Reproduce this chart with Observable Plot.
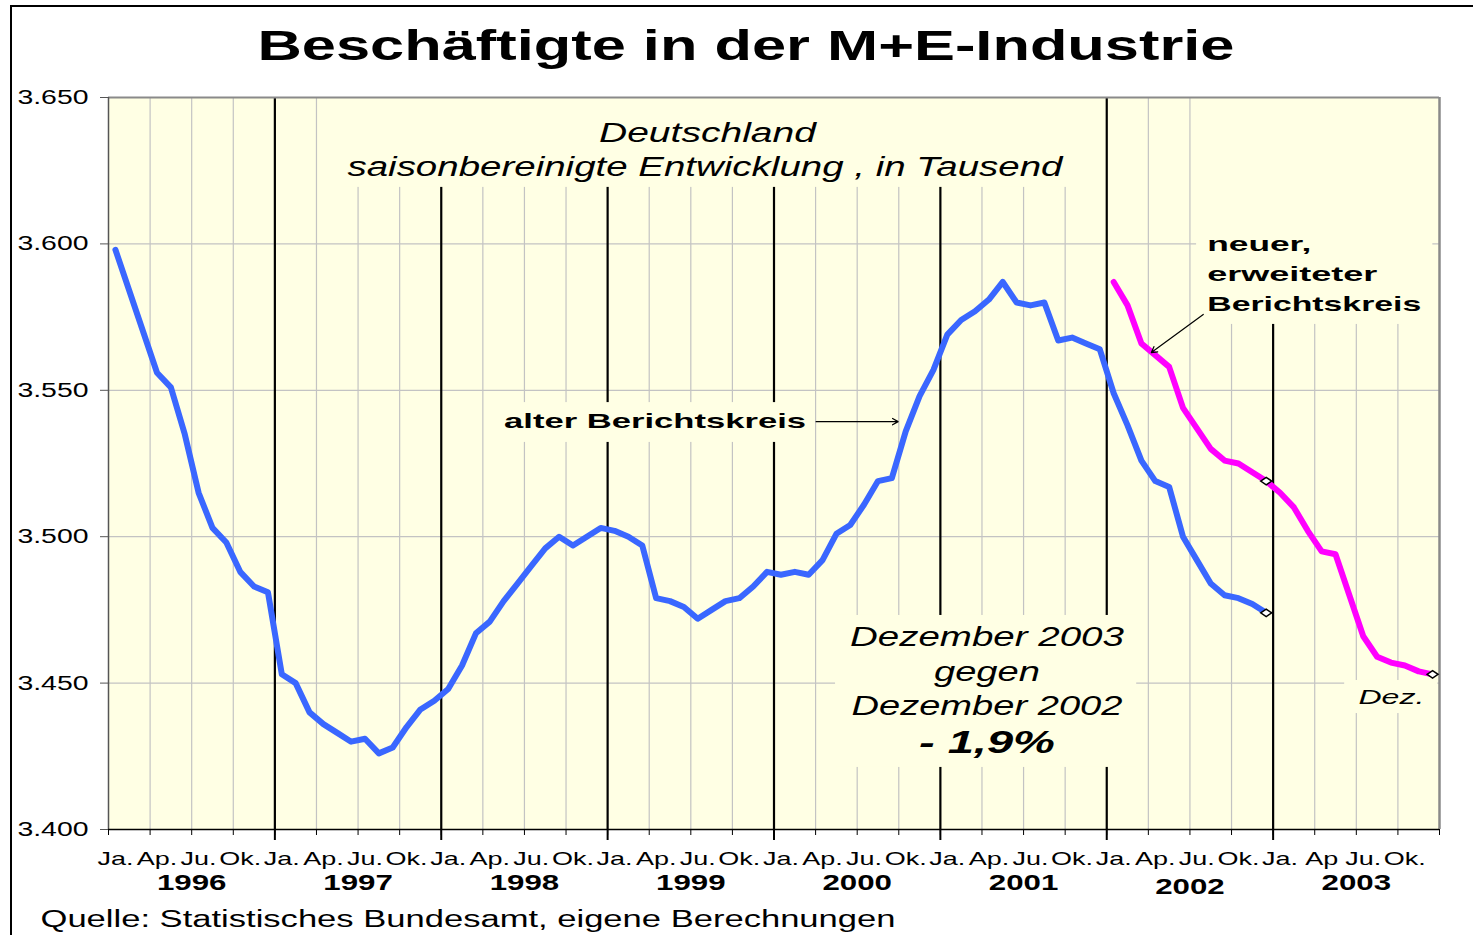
<!DOCTYPE html>
<html>
<head>
<meta charset="utf-8">
<script src="https://cdn.jsdelivr.net/npm/d3@7"></script>
<script src="https://cdn.jsdelivr.net/npm/@observablehq/plot@0.6"></script>
<style>
  body { margin: 0; background: #fff; overflow: hidden; }
  #wrap { position: relative; width: 1473px; height: 935px; overflow: hidden; background: #fff; }
  #chart { position: absolute; left: 0; top: 0; }
  #frame { position: absolute; left: 10px; top: 5px; width: 1600px; height: 1000px;
           border-left: 2px solid #000; border-top: 2px solid #000; pointer-events: none; }
</style>
</head>
<body>
<div id="wrap"><div id="chart"></div><div id="frame"></div></div>
<script>
// ---------- data ----------
const years = [1996, 1997, 1998, 1999, 2000, 2001, 2002, 2003];
const quarterLabels = ["Ja.", "Ap.", "Ju.", "Ok."];
const quarterLabels2003 = ["Ja.", "Ap", "Ju.", "Ok."];
const yTicks = [3400, 3450, 3500, 3550, 3600, 3650];
const yGrid = [3450, 3500, 3550, 3600];

// alter Berichtskreis, Jan 1996 - Dez 2002 (Tausend)
const alterBerichtskreis = [
  3598, 3584, 3570, 3556, 3551, 3535, 3515, 3503, 3498, 3488, 3483, 3481,
  3453, 3450, 3440, 3436, 3433, 3430, 3431, 3426, 3428, 3435, 3441, 3444,
  3448, 3456, 3467, 3471, 3478, 3484, 3490, 3496, 3500, 3497, 3500, 3503,
  3502, 3500, 3497, 3479, 3478, 3476, 3472, 3475, 3478, 3479, 3483, 3488,
  3487, 3488, 3487, 3492, 3501, 3504, 3511, 3519, 3520, 3536, 3548, 3557,
  3569, 3574, 3577, 3581, 3587, 3580, 3579, 3580, 3567, 3568, 3566, 3564,
  3549, 3538, 3526, 3519, 3517, 3500, 3492, 3484, 3480, 3479, 3477, 3474
];
// neuer, erweiteter Berichtskreis, Jan 2002 - Dez 2003 (Tausend)
const neuerBerichtskreis = [
  3587, 3579, 3566, 3562, 3558, 3544, 3537, 3530, 3526, 3525, 3522, 3519,
  3515, 3510, 3502, 3495, 3494, 3480, 3466, 3459, 3457, 3456, 3454, 3453
];

// ---------- derived tables ----------
const alt = alterBerichtskreis.map((v, i) => ({t: 1996 + (i + 0.5) / 12, v}));
const neu = neuerBerichtskreis.map((v, i) => ({t: 2002 + (i + 0.5) / 12, v}));
const markers = [alt[alt.length - 1], neu[11], neu[neu.length - 1]];

const quarterTicks = d3.range(0, years.length * 4 + 1).map(i => years[0] + i / 4);
const minorGrid = quarterTicks.filter((d, i) => i % 4 !== 0);
const yearLines = years.slice(1);
const qLabels = years.flatMap(y => (y === 2003 ? quarterLabels2003 : quarterLabels)
  .map((label, q) => ({t: y + (q * 3 + 0.5) / 12, label})));
const yLabels = years.map(y => ({t: y + 0.5, label: String(y), low: y === 2002}));

// ---------- annotations (data coordinates) ----------
const boxes = [
  {x1: 1997.40, x2: 2001.79, y1: 3650, y2: 3619.3},
  {x1: 1998.33, x2: 2000.22, y1: 3545.8, y2: 3532.2},
  {x1: 2002.54, x2: 2003.96, y1: 3650, y2: 3572.5},
  {x1: 2000.37, x2: 2002.18, y1: 3473.1, y2: 3421.2},
  {x1: 2003.43, x2: 2003.99, y1: 3450.9, y2: 3439.6}
];
const subtitleTexts = [
  {t: 1999.60, v: 3637.7, text: "Deutschland"},
  {t: 1999.585, v: 3626.1, text: "saisonbereinigte Entwicklung , in Tausend"}
];
const altText = [{t: 1999.285, v: 3539.3, text: "alter Berichtskreis"}];
const neuTexts = [
  {t: 2002.604, v: 3599.8, text: "neuer,"},
  {t: 2002.604, v: 3589.5, text: "erweiteter"},
  {t: 2002.604, v: 3579.3, text: "Berichtskreis"}
];
const compareTexts = [
  {t: 2001.28, v: 3465.6, text: "Dezember 2003"},
  {t: 2001.28, v: 3453.6, text: "gegen"},
  {t: 2001.28, v: 3442.0, text: "Dezember 2002"}
];
const changeText = [{t: 2001.28, v: 3429.7, text: "- 1,9%"}];
const dezText = [{t: 2003.711, v: 3445.1, text: "Dez."}];
const arrows = [
  {x1: 2000.253, y1: 3539.3, x2: 2000.746, y2: 3539.3},
  {x1: 2002.580, y1: 3575.9, x2: 2002.268, y2: 3562.9}
];

const titleText = "Beschäftigte in der M+E-Industrie";
const sourceText = "Quelle: Statistisches Bundesamt, eigene Berechnungen";

// target rendered widths (reference text is horizontally stretched)
const targetWidth = {
  [titleText]: 977,
  "Deutschland": 217,
  "saisonbereinigte Entwicklung , in Tausend": 715,
  "alter Berichtskreis": 302,
  "neuer,": 104,
  "erweiteter": 170,
  "Berichtskreis": 214,
  "Dezember 2003": 274,
  "gegen": 106,
  "Dezember 2002": 271,
  "- 1,9%": 136,
  "Dez.": 66,
  [sourceText]: 855
};

// wide, flat diamond marker (as in the stretched original)
const wideDiamond = {
  draw(context, size) {
    const w = Math.sqrt(size) * 0.62, h = Math.sqrt(size) * 0.42;
    context.moveTo(-w, 0);
    context.lineTo(0, -h);
    context.lineTo(w, 0);
    context.lineTo(0, h);
    context.closePath();
  }
};

const BG = "#ffffe4";
const FONT = "'Liberation Sans', Arial, sans-serif";

const plot = Plot.plot({
  width: 1473,
  height: 935,
  marginLeft: 108,
  marginRight: 34,
  marginTop: 97,
  marginBottom: 106,
  x: {domain: [1996, 2004]},
  y: {domain: [3400, 3650]},
  style: {fontFamily: FONT, background: "transparent", color: "#000"},
  marks: [
    Plot.frame({fill: BG}),
    Plot.ruleX(minorGrid, {stroke: "#c3c3c3", strokeWidth: 1.2}),
    Plot.ruleY(yGrid, {stroke: "#c3c3c3", strokeWidth: 1.2}),
    Plot.ruleX(yearLines, {stroke: "#000", strokeWidth: 2.2}),
    Plot.rect(boxes, {x1: "x1", x2: "x2", y1: "y1", y2: "y2", fill: BG}),
    // plot borders
    Plot.ruleY([3650], {stroke: "#8a8a8a", strokeWidth: 2}),
    Plot.ruleX([2004], {stroke: "#8a8a8a", strokeWidth: 2.5}),
    Plot.ruleX([1996], {stroke: "#555", strokeWidth: 1.5}),
    Plot.ruleY([3400], {stroke: "#000", strokeWidth: 1.5}),
    // axes
    Plot.axisY({ticks: yTicks, tickFormat: d => (d / 1000).toFixed(3), tickSize: 8, tickPadding: 12,
                fontSize: 20, stroke: "#555", label: null}),
    Plot.axisX({ticks: quarterTicks, tickSize: 6, tickFormat: () => "", label: null, stroke: "#000"}),
    Plot.axisX({ticks: yearLines, tickSize: 11, strokeWidth: 2, tickFormat: () => "", label: null, stroke: "#000"}),
    Plot.text(qLabels, {x: "t", text: "label", frameAnchor: "bottom", dy: 29, lineAnchor: "middle", fontSize: 19}),
    Plot.text(yLabels.filter(d => !d.low), {x: "t", text: "label", frameAnchor: "bottom", dy: 53, lineAnchor: "middle",
              fontSize: 22, fontWeight: "bold"}),
    Plot.text(yLabels.filter(d => d.low), {x: "t", text: "label", frameAnchor: "bottom", dy: 57, lineAnchor: "middle",
              fontSize: 22, fontWeight: "bold"}),
    // data lines
    Plot.line(alt, {x: "t", y: "v", stroke: "#3a67ff", strokeWidth: 6, strokeLinejoin: "round", strokeLinecap: "round"}),
    Plot.line(neu, {x: "t", y: "v", stroke: "#ff00ff", strokeWidth: 6, strokeLinejoin: "round", strokeLinecap: "round"}),
    Plot.dot(markers, {x: "t", y: "v", symbol: wideDiamond, r: 5, fill: "#fff", stroke: "#000", strokeWidth: 1.5}),
    // annotations
    Plot.text(subtitleTexts, {x: "t", y: "v", text: "text", fontSize: 27, fontStyle: "italic", lineAnchor: "middle"}),
    Plot.text(altText, {x: "t", y: "v", text: "text", textAnchor: "middle", fontSize: 21, fontWeight: "bold",
              lineAnchor: "middle"}),
    Plot.text(neuTexts, {x: "t", y: "v", text: "text", textAnchor: "start", fontSize: 21, fontWeight: "bold",
              lineAnchor: "middle"}),
    Plot.text(compareTexts, {x: "t", y: "v", text: "text", fontSize: 27, fontStyle: "italic", lineAnchor: "middle"}),
    Plot.text(changeText, {x: "t", y: "v", text: "text", fontSize: 32, fontStyle: "italic", fontWeight: "bold",
              lineAnchor: "middle"}),
    Plot.text(dezText, {x: "t", y: "v", text: "text", fontSize: 20, fontStyle: "italic", lineAnchor: "middle"}),
    Plot.arrow(arrows, {x1: "x1", y1: "y1", x2: "x2", y2: "y2", stroke: "#000", strokeWidth: 1.2, headLength: 8}),
    // title & source
    Plot.text([titleText], {frameAnchor: "top", dx: -28, dy: -51, lineAnchor: "middle", fontSize: 42,
              fontWeight: "bold"}),
    Plot.text([sourceText], {frameAnchor: "bottom-left", textAnchor: "start", dx: -68, dy: 90, lineAnchor: "middle",
              fontSize: 23})
  ]
});

document.getElementById("chart").append(plot);

// horizontally stretch all texts like the reference
plot.querySelectorAll("text").forEach(el => {
  const s = el.textContent;
  if (!s || !s.trim()) return;
  const L = el.getComputedTextLength();
  const w = targetWidth[s] != null ? targetWidth[s] : L * 1.42;
  el.setAttribute("textLength", w);
  el.setAttribute("lengthAdjust", "spacingAndGlyphs");
});
</script>
</body>
</html>
